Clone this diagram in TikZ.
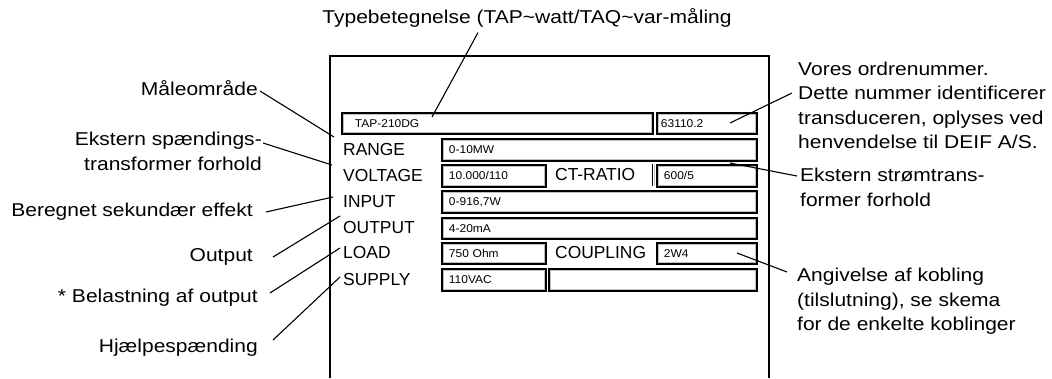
\documentclass[tikz,border=0pt]{standalone}
\usepackage{fontspec}
\setmainfont{Liberation Sans}
\newfontfamily\annfam{Liberation Sans}[FakeStretch=1.13]
\newfontfamily\valfam{Liberation Sans}[FakeStretch=1.06]
\newcommand\annfont{\annfam\fontsize{18.6}{24.5}\selectfont}
\newcommand\lblfont{\fontsize{17.4}{20}\selectfont}
\newcommand\valfont{\valfam\fontsize{11.3}{13}\selectfont}

\begin{document}
\begin{tikzpicture}[x=1pt, y=-1pt,
  ann/.style={font=\annfont, inner sep=0pt},
  lbl/.style={font=\lblfont, inner sep=0pt, anchor=west},
  valbox/.style={draw, line width=1.9pt, anchor=north west, inner ysep=0pt,
    font=\valfont, align=left,
    path picture={\draw[gray!50, line width=3.8pt] (path picture bounding box.south west) rectangle (path picture bounding box.north east);}},
  lead/.style={line width=1.1pt}]
\useasboundingbox (0,0) rectangle (1052,378);

% front plate
\draw[line width=2.2pt] (330,378) |- (769,56) -- (769,378);

% value fields
\foreach \n/\x/\y/\w/\h/\p/\t in {typ/341/112/311/21/13/TAP-210DG,
    ord/656/112/100/21/4/63110.2, rng/441/138/315/22/7/0-10MW,
    vlt/441/164/104/22/7/{10.000/110}, ctr/656/164/100/22/7/{600/5},
    inp/441/190/315/22/7/{0-916,7W}, outb/441/217/315/21/7/4-20mA,
    lod/441/242/104/21/7/750 Ohm, cpl/656/242/100/21/7/2W4,
    sup/441/268/104/22/7/110VAC, spr/548/268/208/22/7/{}}
{
    \pgfmathsetmacro\tw{\w-2*\p}
    \node[valbox, minimum height=\h pt, inner xsep=\p pt, text width=\tw pt] (\n) at (\x,\y) {\t};
}
\draw[line width=1.4pt] (652.5,164) -- (652.5,186);
\draw[gray!50, line width=0.9pt] (654.6,165) -- (654.6,185);

% field names
\foreach \n/\y/\t in {rangel/150/RANGE, voltl/175.5/VOLTAGE, inpl/201.5/INPUT,
    outl/227.5/OUTPUT, loadl/253/LOAD, supl/279.5/SUPPLY}
{
    \node[lbl] (\n) at (343,\y) {\t};
}
\node[lbl] (ctl) at (555,175) {CT-RATIO};
\node[lbl] (cpll) at (555,253) {COUPLING};

% explanations
\node[ann] (typl) at (527,18) {Typebetegnelse (TAP\textasciitilde watt/TAQ\textasciitilde var-måling};
\node[ann, anchor=east] (maal) at (258,88) {Måleområde};
\node[ann, anchor=east, align=right] (ekst) at (262,151.5) {Ekstern spændings-\\transformer forhold};
\node[ann, anchor=east] (ber) at (253,212) {Beregnet sekundær effekt};
\node[ann, anchor=east] (outn) at (253,257) {Output};
\node[ann, anchor=east] (bel) at (258,298) {* Belastning af output};
\node[ann, anchor=east] (hjp) at (258,348) {Hjælpespænding};
\node[ann, anchor=west, align=left] (ordn) at (798,105.5) {Vores ordrenummer.\\Dette nummer identificerer\\transduceren, oplyses ved\\henvendelse til DEIF A/S.};
\node[ann, anchor=west, align=left] (ctn) at (800,187.5) {Ekstern strømtrans-\\former forhold};
\node[ann, anchor=west, align=left] (cpn) at (797,301.5) {Angivelse af kobling\\(tilslutning), se skema\\for de enkelte koblinger};

\coordinate (cType) at (432,117);
\coordinate (cRange) at (334,137);
\coordinate (cVolt) at (332,165);
\coordinate (cInp) at (333,197);
\coordinate (cOut) at (340,216);
\coordinate (cLoad) at (340,248);
\coordinate (cSup) at (340,277);
\coordinate (cOrd) at (730,123);
\coordinate (cCt) at (730,163);
\coordinate (cCpl) at (737,253);

\draw[lead] ([xshift=-49pt,yshift=-5pt]typl.south) -- (cType);
\draw[lead] ([xshift=2pt,yshift=-3pt]maal.east) -- (cRange);
\draw[lead] ([xshift=1pt,yshift=8.5pt]ekst.east) -- (cVolt);
\draw[lead] ([xshift=13pt]ber.east) -- (cInp);
\draw[lead] ([xshift=20pt]outn.east) -- (cOut);
\draw[lead] ([xshift=12pt,yshift=5pt]bel.east) -- (cLoad);
\draw[lead] ([xshift=15pt,yshift=8pt]hjp.east) -- (cSup);
\draw[lead] ([xshift=-6pt,yshift=12.5pt]ordn.west) -- (cOrd);
\draw[lead] ([xshift=-3pt,yshift=11.5pt]ctn.west) -- (cCt);
\draw[lead] ([xshift=-10pt,yshift=29.5pt]cpn.west) -- (cCpl);
\end{tikzpicture}
\end{document}
